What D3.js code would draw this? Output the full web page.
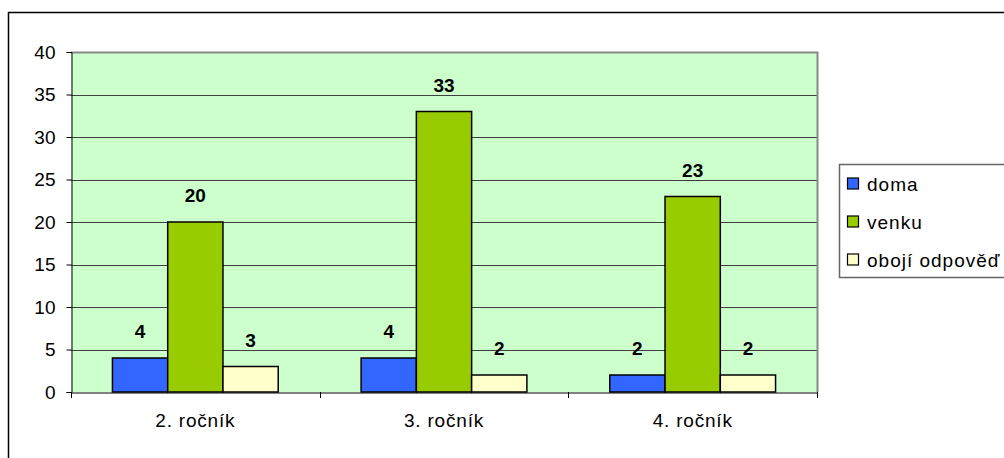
<!DOCTYPE html>
<html><head><meta charset="utf-8">
<script src="https://cdn.jsdelivr.net/npm/d3@7"></script>
<style>body{margin:0;background:#fff}svg{display:block}text{font-family:"Liberation Sans",Arial,sans-serif}</style>
</head><body>
<svg id="c" width="1004" height="458"></svg>
<script>
const categories = ["2. ročník", "3. ročník", "4. ročník"];
const seriesNames = ["doma", "venku", "obojí odpověď"];
const doma = [4, 4, 2];
const venku = [20, 33, 23];
const oboji = [3, 2, 2];
const yTicks = [0, 5, 10, 15, 20, 25, 30, 35, 40];
const colors = ["#3366FF", "#99CC00", "#FFFFCC"];

const svg = d3.select("#c");
const L = 71, R = 817, T = 52, B = 392;
const FONT = "Liberation Sans, Arial, sans-serif";
// outer frame
svg.append("path").attr("d", "M8.5,458 V12.5 H1004").attr("fill", "none").attr("stroke", "#000").attr("stroke-width", 1.5);

const x0 = d3.scaleBand().domain(categories).range([L, R]).paddingInner(0).paddingOuter(0);
const gw = x0.bandwidth();
const bw = gw / 4.5;
const y = d3.scaleLinear().domain([0, 40]).range([B, T]);

svg.append("rect").attr("x", L).attr("y", T).attr("width", R - L).attr("height", B - T).attr("fill", "#CCFFCC");
// gridlines
svg.append("g").selectAll("line").data(yTicks.filter(d => d > 0 && d < 40)).join("line")
  .attr("x1", L).attr("x2", R).attr("y1", d => Math.round(y(d)) + 0.5).attr("y2", d => Math.round(y(d)) + 0.5)
  .attr("stroke", "#404040").attr("stroke-width", 1);
// plot border (gray top/right)
svg.append("path").attr("d", `M${L},${T + 0.5} H${R + 0.5} V${B}`).attr("fill", "none").attr("stroke", "#888").attr("stroke-width", 2);

const data = categories.map((c, i) => ({c, vals: [doma[i], venku[i], oboji[i]]}));
const g = svg.append("g");
data.forEach(d => {
  d.vals.forEach((v, k) => {
    const bx = x0(d.c) + bw * 0.75 + k * bw;
    g.append("rect").attr("x", bx).attr("y", y(v)).attr("width", bw).attr("height", B - y(v))
      .attr("fill", colors[k]).attr("stroke", "#000").attr("stroke-width", 1.5);
    g.append("text").attr("x", bx + bw / 2).attr("y", y(v) - 20).attr("text-anchor", "middle")
      .attr("font-size", 19).attr("font-weight", "bold").text(v);
  });
});

// y axis
const ya = svg.append("g").attr("transform", `translate(${L + 0.5},0)`)
  .call(d3.axisLeft(y).tickValues(yTicks).tickSize(5).tickPadding(11));
ya.selectAll("text").attr("font-size", 19).attr("fill", "#000").attr("font-family", FONT);
ya.selectAll("line, path").attr("stroke", "#000");
// x axis
const xa = svg.append("g").attr("transform", `translate(0,${B + 0.5})`)
  .call(d3.axisBottom(x0).tickSize(0).tickPadding(21));
xa.select(".domain").attr("stroke", "#000");
xa.selectAll("text").attr("font-size", 19).attr("fill", "#000").attr("font-family", FONT).attr("letter-spacing", 0.8);
svg.append("g").selectAll("line").data([L, ...categories.map(c => x0(c) + gw)]).join("line")
  .attr("x1", d => Math.round(d) + 0.5).attr("x2", d => Math.round(d) + 0.5).attr("y1", B).attr("y2", B + 6).attr("stroke", "#000");

// legend
const lg = svg.append("g");
lg.append("rect").attr("x", 839.5).attr("y", 164.5).attr("width", 200).attr("height", 113)
  .attr("fill", "#fff").attr("stroke", "#666").attr("stroke-width", 1.5);
seriesNames.forEach((n, k) => {
  const yy = 184 + k * 38;
  lg.append("rect").attr("x", 847.5).attr("y", yy - 6).attr("width", 11).attr("height", 11)
    .attr("fill", colors[k]).attr("stroke", "#000").attr("stroke-width", 1.2);
  lg.append("text").attr("x", 867).attr("y", yy + 7).attr("font-size", 19).attr("letter-spacing", 1).text(n);
});
</script>
</body></html>
